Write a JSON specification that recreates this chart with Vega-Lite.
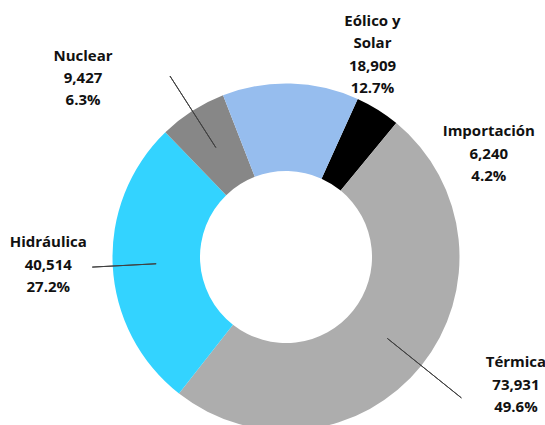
{
  "$schema": "https://vega.github.io/schema/vega-lite/v6.json",
  "width": 518,
  "height": 336,
  "autosize": {"type": "none"},
  "padding": {"left": 27, "top": 89, "right": 0, "bottom": 0},
  "background": "white",
  "view": {"stroke": null},
  "data": {
    "values": [
      {"cat": "Importación", "value": 6240, "idx": 1},
      {"cat": "Térmica", "value": 73931, "idx": 2},
      {"cat": "Hidráulica", "value": 40514, "idx": 3},
      {"cat": "Nuclear", "value": 9427, "idx": 4},
      {"cat": "Eólico y Solar", "value": 18909, "idx": 5}
    ]
  },
  "transform": [
    {"joinaggregate": [{"op": "sum", "field": "value", "as": "total"}]},
    {"window": [{"op": "sum", "field": "value", "as": "cum"}], "sort": [{"field": "idx", "order": "ascending"}]},
    {"calculate": "datum.cum - datum.value / 2", "as": "mid"},
    {"calculate": "(datum.cat === 'Eólico y Solar' ? 'Eólico y\\nSolar' : datum.cat) + '\\n' + format(datum.value, ',') + '\\n' + format(datum.value / datum.total, '.1%')", "as": "label"}
  ],
  "encoding": {
    "theta": {"field": "value", "type": "quantitative", "stack": true, "scale": {"range": [0.4259, 6.7091]}},
    "order": {"field": "idx", "type": "quantitative"}
  },
  "layer": [
    {
      "mark": {"type": "arc", "radius": 173.5, "radius2": 86},
      "encoding": {
        "color": {
          "field": "cat", "type": "nominal", "legend": null,
          "scale": {
            "domain": ["Importación", "Térmica", "Hidráulica", "Nuclear", "Eólico y Solar"],
            "range": ["#000000", "#ADADAD", "#33D3FF", "#878787", "#96BDEE"]
          }
        }
      }
    },
    {
      "transform": [{"filter": "datum.cat === 'Nuclear'"}],
      "mark": {"type": "arc", "radius": 215, "radius2": 130, "filled": false, "stroke": "#404040", "strokeWidth": 1},
      "encoding": {
        "theta": {"field": "mid", "type": "quantitative", "stack": null, "scale": {"range": [0.4259, 6.7091]}},
        "theta2": {"field": "mid"}
      }
    },
    {
      "transform": [{"filter": "datum.cat === 'Hidráulica'"}],
      "mark": {"type": "arc", "radius": 194, "radius2": 130, "filled": false, "stroke": "#404040", "strokeWidth": 1},
      "encoding": {
        "theta": {"field": "mid", "type": "quantitative", "stack": null, "scale": {"range": [0.4259, 6.7091]}},
        "theta2": {"field": "mid"}
      }
    },
    {
      "transform": [{"filter": "datum.cat === 'Térmica'"}],
      "mark": {"type": "arc", "radius": 225, "radius2": 130, "filled": false, "stroke": "#404040", "strokeWidth": 1},
      "encoding": {
        "theta": {"field": "mid", "type": "quantitative", "stack": null, "scale": {"range": [0.4259, 6.7091]}},
        "theta2": {"field": "mid"}
      }
    },
    {
      "mark": {"type": "text", "radius": 200, "dx": 97, "dy": 44, "font": "Open Sans", "fontWeight": "bold", "fontSize": 15, "lineHeight": 22.3, "lineBreak": "\n", "align": "center", "baseline": "middle", "color": "#111111"},
      "encoding": {
        "detail": {"field": "cat", "type": "nominal"},
        "text": {"condition": {"test": "datum.cat === 'Importación'", "field": "label"}, "value": ""}
      }
    },
    {
      "mark": {"type": "text", "radius": 200, "dx": 74, "dy": -20, "font": "Open Sans", "fontWeight": "bold", "fontSize": 15, "lineHeight": 22.3, "lineBreak": "\n", "align": "center", "baseline": "middle", "color": "#111111"},
      "encoding": {
        "detail": {"field": "cat", "type": "nominal"},
        "text": {"condition": {"test": "datum.cat === 'Térmica'", "field": "label"}, "value": ""}
      }
    },
    {
      "mark": {"type": "text", "radius": 200, "dx": -38, "dy": -25, "font": "Open Sans", "fontWeight": "bold", "fontSize": 15, "lineHeight": 22.3, "lineBreak": "\n", "align": "center", "baseline": "middle", "color": "#111111"},
      "encoding": {
        "detail": {"field": "cat", "type": "nominal"},
        "text": {"condition": {"test": "datum.cat === 'Hidráulica'", "field": "label"}, "value": ""}
      }
    },
    {
      "mark": {"type": "text", "radius": 200, "dx": -95, "dy": -33, "font": "Open Sans", "fontWeight": "bold", "fontSize": 15, "lineHeight": 22.3, "lineBreak": "\n", "align": "center", "baseline": "middle", "color": "#111111"},
      "encoding": {
        "detail": {"field": "cat", "type": "nominal"},
        "text": {"condition": {"test": "datum.cat === 'Nuclear'", "field": "label"}, "value": ""}
      }
    },
    {
      "mark": {"type": "text", "radius": 200, "dx": 81, "dy": -36, "font": "Open Sans", "fontWeight": "bold", "fontSize": 15, "lineHeight": 22.3, "lineBreak": "\n", "align": "center", "baseline": "middle", "color": "#111111"},
      "encoding": {
        "detail": {"field": "cat", "type": "nominal"},
        "text": {"condition": {"test": "datum.cat === 'Eólico y Solar'", "field": "label"}, "value": ""}
      }
    }
  ]
}
